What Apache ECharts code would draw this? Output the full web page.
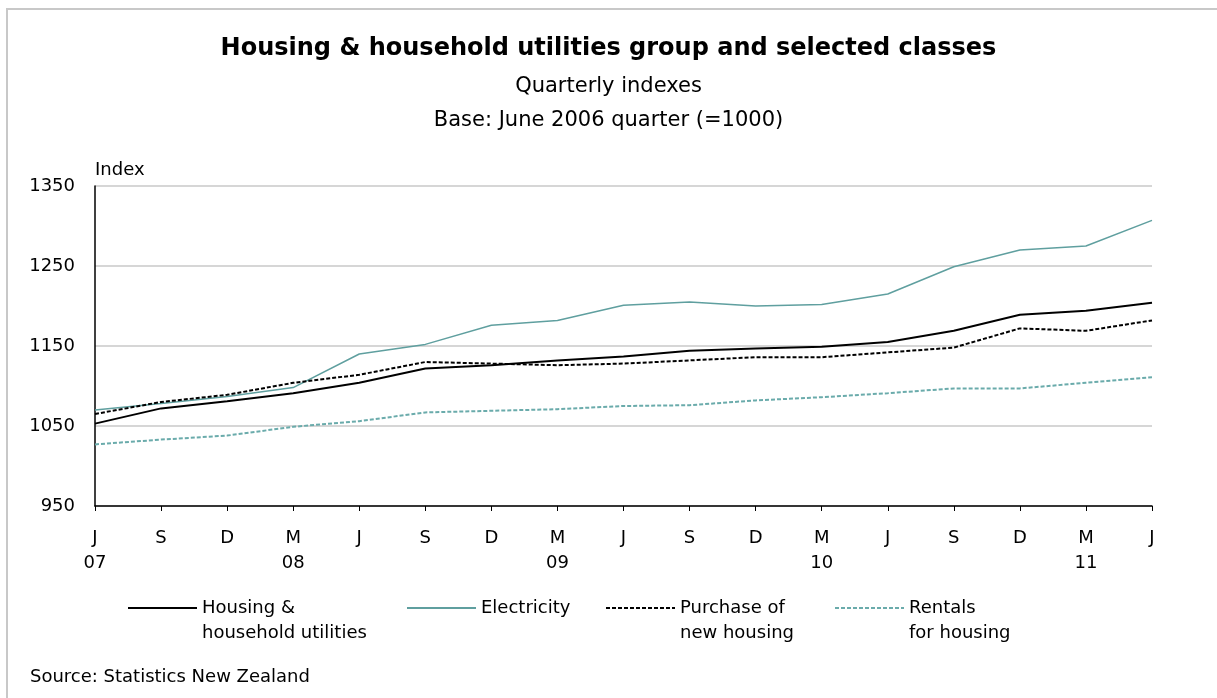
<!DOCTYPE html>
<html>
<head>
<meta charset="utf-8">
<script src="https://cdn.jsdelivr.net/npm/echarts@6/dist/echarts.min.js"></script>
<style>
  html, body { margin: 0; padding: 0; background: #fff; }
  #chart { width: 1217px; height: 698px; }
</style>
</head>
<body>
<div id="chart"></div>
<script>
// ---- Data ----
const months = ['J','S','D','M','J','S','D','M','J','S','D','M','J','S','D','M','J'];
const years  = ['07','','','08','','','','09','','','','10','','','','11',''];
const seriesNames = ['Housing & household utilities', 'Electricity', 'Purchase of new housing', 'Rentals for housing'];
const legendLabels = [['Housing &', 'household utilities'], ['Electricity'], ['Purchase of', 'new housing'], ['Rentals', 'for housing']];
const housing     = [1053, 1072, 1081, 1091, 1104, 1122, 1126, 1132, 1137, 1144, 1147, 1149, 1155, 1169, 1189, 1194, 1204];
const electricity = [1070, 1078, 1087, 1098, 1140, 1152, 1176, 1182, 1201, 1205, 1200, 1202, 1215, 1249, 1270, 1275, 1307];
const newHousing  = [1065, 1080, 1089, 1104, 1114, 1130, 1128, 1126, 1128, 1132, 1136, 1136, 1142, 1148, 1172, 1169, 1182];
const rentals     = [1027, 1033, 1038, 1049, 1056, 1067, 1069, 1071, 1075, 1076, 1082, 1086, 1091, 1097, 1097, 1104, 1111];
const yTicks = { min: 950, max: 1350, interval: 100 };

const categories = months.map((m, i) => m + '\n' + years[i]);
const FONT = 'DejaVu Sans';
const TEAL = '#5f9f9f';
const TEAL2 = '#6aabab';

const chart = echarts.init(document.getElementById('chart'), null, { renderer: 'canvas' });

function legendFor(idx, left, top) {
  const lines = legendLabels[idx];
  // two-line labels: add an empty first line so the first text line sits level with the line icon
  const text = lines.length > 1 ? ' \n' + lines.join('\n') : lines[0];
  return {
    left: left, top: top, padding: 0, itemGap: 0,
    itemWidth: 69, itemHeight: 14,
    itemStyle: { opacity: 0 },
    data: [seriesNames[idx]],
    formatter: () => text,
    textStyle: { fontFamily: FONT, fontSize: 18, color: '#000', lineHeight: 25 }
  };
}

const option = {
  animation: false,
  backgroundColor: '#fff',
  title: [
    { text: 'Housing & household utilities group and selected classes', left: 'center', top: 32,
      textStyle: { fontFamily: FONT, fontWeight: 'bold', fontSize: 24, color: '#000' } },
    { text: 'Quarterly indexes', left: 'center', top: 71,
      textStyle: { fontFamily: FONT, fontWeight: 'normal', fontSize: 21, color: '#000' } },
    { text: 'Base: June 2006 quarter (=1000)', left: 'center', top: 105,
      textStyle: { fontFamily: FONT, fontWeight: 'normal', fontSize: 21, color: '#000' } }
  ],
  grid: { left: 95, right: 65, top: 186, bottom: 192, containLabel: false },
  legend: [
    legendFor(0, 127, 570.5),
    legendFor(1, 406, 595.5),
    legendFor(2, 605, 570.5),
    legendFor(3, 834, 570.5)
  ],
  xAxis: {
    type: 'category',
    data: categories,
    boundaryGap: false,
    axisLine: { lineStyle: { color: '#000', width: 1.5 } },
    axisTick: { show: true, inside: false, length: 5, alignWithLabel: true, lineStyle: { color: '#000' } },
    axisLabel: { interval: 0, margin: 20, fontFamily: FONT, fontSize: 18, color: '#000', lineHeight: 25 },
    splitLine: { show: false }
  },
  yAxis: {
    type: 'value',
    min: yTicks.min, max: yTicks.max, interval: yTicks.interval,
    name: 'Index',
    nameLocation: 'end',
    nameGap: 7,
    nameTextStyle: { fontFamily: FONT, fontSize: 18, color: '#000', align: 'left' },
    axisLine: { show: true, lineStyle: { color: '#000', width: 1.5 } },
    axisTick: { show: false },
    axisLabel: { margin: 20, fontFamily: FONT, fontSize: 18, color: '#000', formatter: (v) => String(v) },
    splitLine: { show: true, lineStyle: { color: '#c8c8c8', width: 1.5 } }
  },
  series: [
    { name: seriesNames[0], type: 'line', data: housing, symbol: 'none', z: 4,
      lineStyle: { color: '#000', width: 2 }, itemStyle: { color: '#000' } },
    { name: seriesNames[1], type: 'line', data: electricity, symbol: 'none', z: 3,
      lineStyle: { color: TEAL, width: 1.5 }, itemStyle: { color: TEAL } },
    { name: seriesNames[2], type: 'line', data: newHousing, symbol: 'none', z: 5,
      lineStyle: { color: '#000', width: 2, type: [4, 2] }, itemStyle: { color: '#000' } },
    { name: seriesNames[3], type: 'line', data: rentals, symbol: 'none', z: 2,
      lineStyle: { color: TEAL2, width: 2, type: [4, 2] }, itemStyle: { color: TEAL2 } }
  ],
  graphic: [
    { type: 'line', silent: true, z: -10,
      shape: { x1: 7, y1: 9, x2: 1217, y2: 9 },
      style: { stroke: '#c8c8c8', lineWidth: 2 } },
    { type: 'line', silent: true, z: -10,
      shape: { x1: 7, y1: 8, x2: 7, y2: 698 },
      style: { stroke: '#c8c8c8', lineWidth: 2 } },
    { type: 'text', left: 30, top: 668,
      style: { text: 'Source: Statistics New Zealand', font: '18px "DejaVu Sans"', fill: '#000' } }
  ]
};

chart.setOption(option);
</script>
</body>
</html>
